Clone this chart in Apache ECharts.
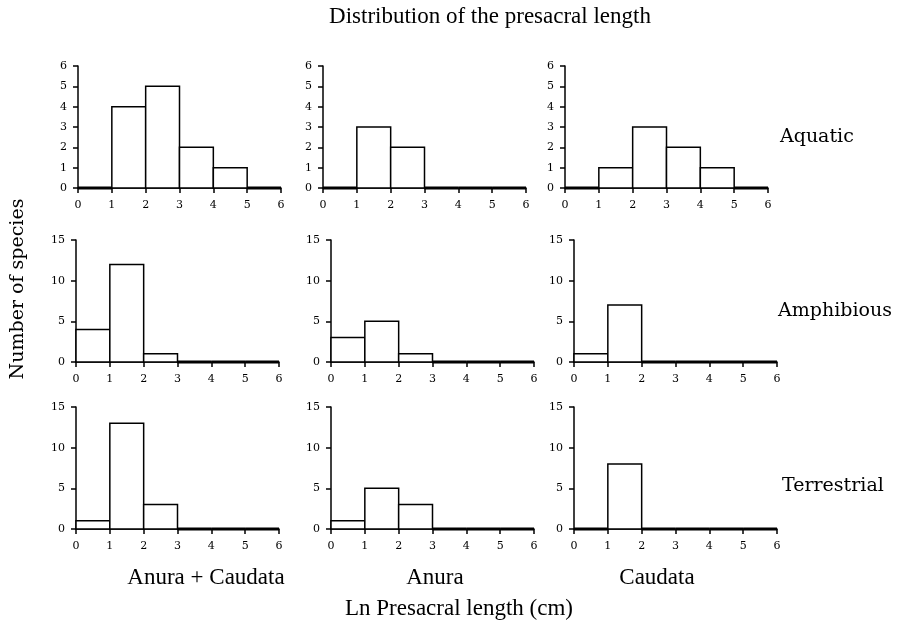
<!DOCTYPE html>
<html>
<head>
<meta charset="utf-8">
<script src="https://cdn.jsdelivr.net/npm/echarts@6/dist/echarts.min.js"></script>
<style>
  html, body { margin: 0; padding: 0; background: #fff; }
  #chart { width: 898px; height: 627px; }
</style>
</head>
<body>
<div id="chart"></div>
<script>
// bin edges of Ln presacral length (cm)
var binEdges = [0, 1, 2, 3, 4, 5, 6]

var habitats = ['Aquatic', 'Amphibious', 'Terrestrial']
var groups = ['Anura + Caudata', 'Anura', 'Caudata']

// number of species per bin
var aquaticAll = [0, 4, 5, 2, 1, 0]
var aquaticAnura = [0, 3, 2, 0, 0, 0]
var aquaticCaudata = [0, 1, 3, 2, 1, 0]
var amphibiousAll = [4, 12, 1, 0, 0, 0]
var amphibiousAnura = [3, 5, 1, 0, 0, 0]
var amphibiousCaudata = [1, 7, 0, 0, 0, 0]
var terrestrialAll = [1, 13, 3, 0, 0, 0]
var terrestrialAnura = [1, 5, 3, 0, 0, 0]
var terrestrialCaudata = [0, 8, 0, 0, 0, 0]

var yMax = [6, 15, 15]
var yStep = [1, 5, 5]

var counts = [
  [aquaticAll, aquaticAnura, aquaticCaudata],
  [amphibiousAll, amphibiousAnura, amphibiousCaudata],
  [terrestrialAll, terrestrialAnura, terrestrialCaudata]
]

// panel layout (px)
var rowTops = [66, 240, 407]
var panelHeight = 122
var panelWidth = 203
var rowLefts = [[78, 323, 565], [76, 331, 574], [76, 331, 574]]

var serif = 'DejaVu Serif'
var narrowSerif = 'Liberation Serif'

var chart = echarts.init(document.getElementById('chart'))

var grids = [], xAxes = [], yAxes = [], series = []

counts.forEach(function (row, r) {
  row.forEach(function (values, c) {
    var idx = grids.length
    grids.push({
      left: rowLefts[r][c],
      top: rowTops[r],
      width: panelWidth,
      height: panelHeight
    })
    xAxes.push({
      gridIndex: idx,
      type: 'value',
      min: 0,
      max: 6,
      interval: 1,
      axisLine: { show: true, onZero: false, lineStyle: { color: '#000', width: 1.5 } },
      axisTick: { show: true, length: 5, lineStyle: { color: '#000', width: 1.5 } },
      axisLabel: { color: '#000', fontFamily: serif, fontSize: 11, margin: 12 },
      splitLine: { show: false }
    })
    yAxes.push({
      gridIndex: idx,
      type: 'value',
      min: 0,
      max: yMax[r],
      interval: yStep[r],
      axisLine: { show: true, lineStyle: { color: '#000', width: 1.5 } },
      axisTick: { show: true, length: 5, lineStyle: { color: '#000', width: 1.5 } },
      axisLabel: { color: '#000', fontFamily: serif, fontSize: 11, margin: 11 },
      splitLine: { show: false }
    })
    series.push({
      type: 'custom',
      xAxisIndex: idx,
      yAxisIndex: idx,
      clip: false,
      data: values.map(function (v, i) {
        return [binEdges[i], binEdges[i + 1], v]
      }),
      renderItem: function (params, api) {
        var h = api.value(2)
        var p0 = api.coord([api.value(0), h])
        var p1 = api.coord([api.value(1), 0])
        return {
          type: 'rect',
          shape: { x: p0[0], y: p0[1], width: p1[0] - p0[0], height: p1[1] - p0[1] },
          style: { fill: '#fff', stroke: '#000', lineWidth: h === 0 ? 3 : 1.5 }
        }
      }
    })
  })
})

var texts = [
  { text: 'Distribution of the presacral length', x: 490, y: 17, font: narrowSerif, size: 23, align: 'center' },
  { text: 'Ln Presacral length (cm)', x: 459, y: 609, font: narrowSerif, size: 23, align: 'center' }
]
groups.forEach(function (g, i) {
  texts.push({ text: g, x: [206, 435, 657][i], y: 578, font: narrowSerif, size: 23, align: 'center' })
})
habitats.forEach(function (h, i) {
  texts.push({ text: h, x: [780, 778, 782][i], y: [137, 311, 486][i], font: serif, size: 19, align: 'left' })
})

var graphic = texts.map(function (t) {
  return {
    type: 'text',
    x: t.x,
    y: t.y,
    style: {
      text: t.text,
      fill: '#000',
      font: t.size + 'px "' + t.font + '"',
      textAlign: t.align,
      textVerticalAlign: 'middle'
    }
  }
})
graphic.push({
  type: 'text',
  x: 18,
  y: 289,
  rotation: Math.PI / 2,
  style: {
    text: 'Number of species',
    fill: '#000',
    font: '19px "' + serif + '"',
    textAlign: 'center',
    textVerticalAlign: 'middle'
  }
})

chart.setOption({
  backgroundColor: '#fff',
  animation: false,
  grid: grids,
  xAxis: xAxes,
  yAxis: yAxes,
  series: series,
  graphic: graphic
})
</script>
</body>
</html>
